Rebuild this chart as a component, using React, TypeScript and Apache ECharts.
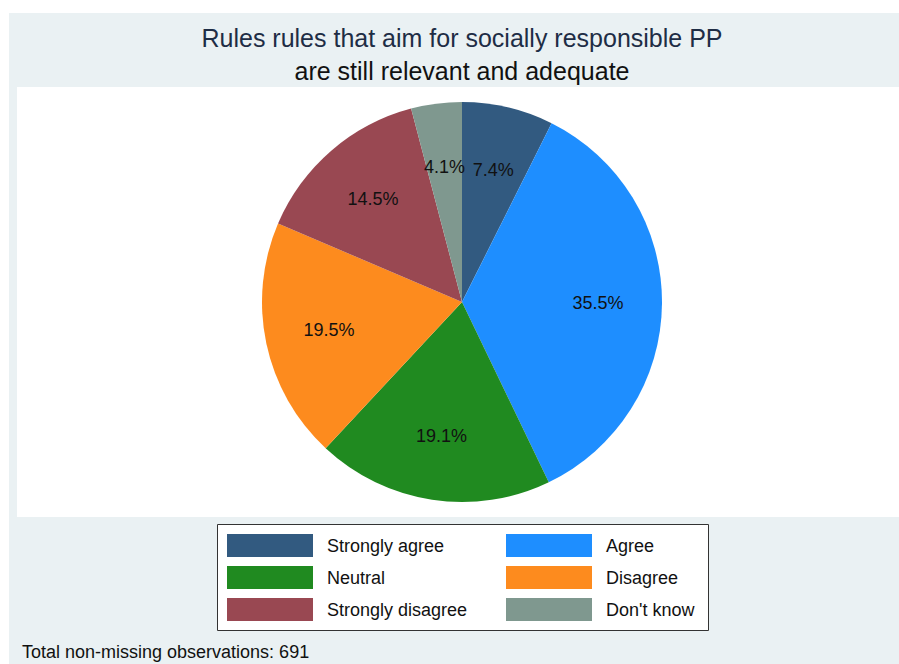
import React, { useEffect, useRef } from "react";
import * as echarts from "echarts";

const categories = ["Strongly agree", "Agree", "Neutral", "Disagree", "Strongly disagree", "Don't know"];
const percents = [7.4, 35.5, 19.1, 19.5, 14.5, 4.1];
const colors = ["#325A80", "#1E8EFF", "#208A20", "#FD8B1E", "#994852", "#7F988F"];
const legendLeft = ["Strongly agree", "Neutral", "Strongly disagree"];
const legendRight = ["Agree", "Disagree", "Don't know"];
const titleLine1 = "Rules rules that aim for socially responsible PP";
const titleLine2 = "are still relevant and adequate";
const noteText = "Total non-missing observations: 691";

const FONT = "'Liberation Sans', Arial, sans-serif";

export default function App() {
  const ref = useRef<HTMLDivElement>(null);
  useEffect(() => {
    if (!ref.current) return;
    const chart = echarts.init(ref.current, undefined, { renderer: "svg" });
    const data = categories.map((name, i) => ({
      name,
      value: percents[i],
      itemStyle: { color: colors[i] },
    }));
    const legendCommon = {
      orient: "vertical" as const,
      top: 534,
      padding: 0,
      itemGap: 9,
      itemWidth: 86,
      itemHeight: 23,
      icon: "rect",
      selectedMode: false,
      textStyle: { fontFamily: FONT, fontSize: 18, color: "#111", padding: [0, 0, 0, 9] },
    };
    chart.setOption({
      animation: false,
      backgroundColor: "#ffffff",
      textStyle: { fontFamily: FONT },
      title: [
        {
          text: titleLine1,
          left: 462,
          textAlign: "center",
          top: 25,
          padding: 0,
          textStyle: { fontFamily: FONT, fontSize: 25, fontWeight: "normal", color: "#1E2D45" },
        },
        {
          text: titleLine2,
          left: 462,
          textAlign: "center",
          top: 58,
          padding: 0,
          textStyle: { fontFamily: FONT, fontSize: 25, fontWeight: "normal", color: "#111111" },
        },
      ],
      graphic: [
        { type: "rect", z: -10, shape: { x: 9, y: 13, width: 890, height: 651 }, style: { fill: "#EAF1F3" } },
        { type: "rect", z: -9, shape: { x: 17, y: 87, width: 882, height: 430 }, style: { fill: "#ffffff" } },
        {
          type: "rect",
          z: -8,
          shape: { x: 217.5, y: 524.5, width: 491, height: 106 },
          style: { fill: "#ffffff", stroke: "#333333", lineWidth: 1 },
        },
        {
          type: "text",
          x: 22,
          y: 652,
          style: { text: noteText, fontFamily: FONT, fontSize: 18, fill: "#111", textVerticalAlign: "middle" },
        },
      ],
      legend: [
        { ...legendCommon, left: 227, data: legendLeft },
        { ...legendCommon, left: 506, data: legendRight },
      ],
      series: [
        {
          type: "pie",
          center: [462, 302],
          radius: [0, 200],
          startAngle: 90,
          clockwise: true,
          silent: true,
          label: { show: false },
          labelLine: { show: false },
          data,
        },
        {
          type: "pie",
          center: [462, 302],
          radius: [132, 134],
          startAngle: 90,
          clockwise: true,
          silent: true,
          itemStyle: { color: "rgba(0,0,0,0)" },
          label: {
            show: true,
            position: "inside",
            fontFamily: FONT,
            fontSize: 18,
            color: "#111",
            formatter: (p: any) => `${Number(p.value).toFixed(1)}%`,
          },
          labelLine: { show: false },
          data: categories.map((name, i) => ({ name, value: percents[i], itemStyle: { color: "rgba(0,0,0,0)" } })),
        },
      ],
    });
    return () => chart.dispose();
  }, []);
  return (
    <div
      ref={ref}
      style={{ position: "absolute", left: 0, top: 0, width: 899, height: 664 }}
    />
  );
}
